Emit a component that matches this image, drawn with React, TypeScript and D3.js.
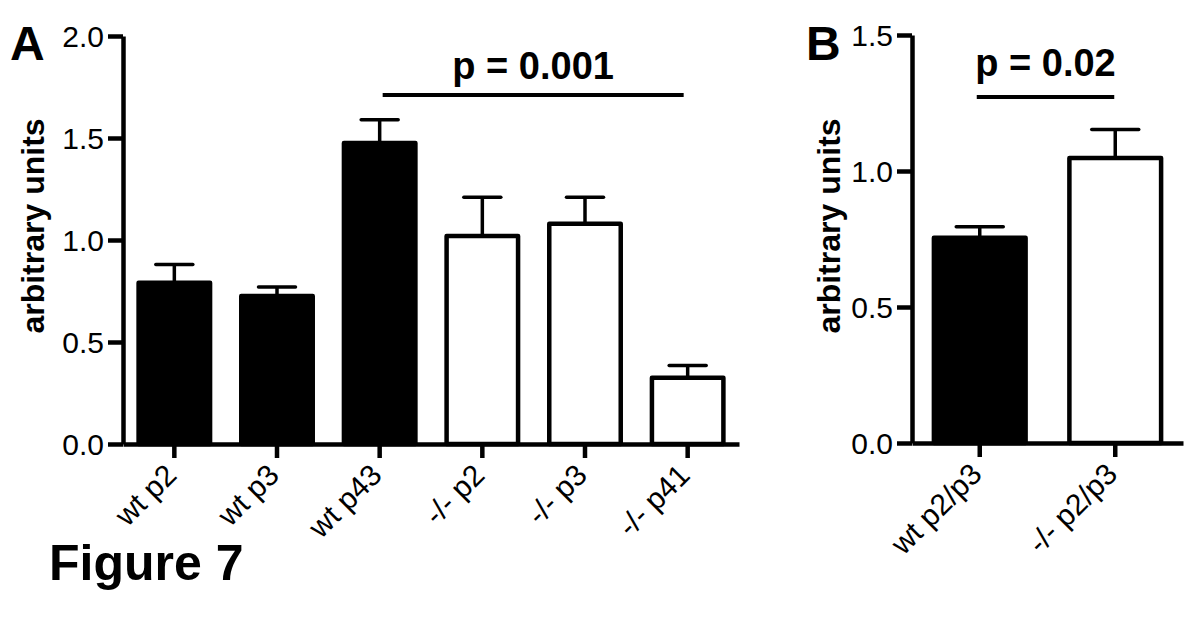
import React, { useRef, useEffect } from 'react';
import * as d3 from 'd3';

// Panel A
const categoriesA = ["wt p2", "wt p3", "wt p43", "-/- p2", "-/- p3", "-/- p41"];
const meansA = [0.79, 0.725, 1.475, 1.02, 1.08, 0.325];
const semA = [0.09, 0.045, 0.115, 0.19, 0.13, 0.06];
const groupA = ["wt", "wt", "wt", "ko", "ko", "ko"];
const ticksA = [0, 0.5, 1.0, 1.5, 2.0];

// Panel B
const categoriesB = ["wt p2/p3", "-/- p2/p3"];
const meansB = [0.755, 1.048];
const semB = [0.04, 0.105];
const groupB = ["wt", "ko"];
const ticksB = [0, 0.5, 1.0, 1.5];

const FONT = "'Liberation Sans', Arial, Helvetica, sans-serif";

const drawPanel = (svg, cfg) => {
    const { cats, means, sem, groups, ticks, yMax, x0, x1, y0, y1, pad, cap, letter, letterX, labelX, sig } = cfg;

    const xScale = d3.scaleBand().domain(cats).range([x0, x1]).paddingInner(pad).paddingOuter(pad / 2);
    const yScale = d3.scaleLinear().domain([0, yMax]).range([y0, y1]);
    const sw = 4.5;

    const g = svg.append("g");

    // barras
    const data = cats.map((c, i) => ({ c, v: means[i], e: sem[i], grp: groups[i] }));
    g.selectAll("rect.bar").data(data).enter().append("rect")
        .attr("class", "bar")
        .attr("x", d => xScale(d.c) + sw / 2)
        .attr("width", xScale.bandwidth() - sw)
        .attr("y", d => yScale(d.v))
        .attr("height", d => y0 - yScale(d.v))
        .attr("fill", d => d.grp === "wt" ? "#000" : "#fff")
        .attr("stroke", "#000")
        .attr("stroke-width", sw)
        .attr("stroke-linejoin", "round");

    // barras de error (solo hacia arriba)
    const cx = d => xScale(d.c) + xScale.bandwidth() / 2;
    g.selectAll("line.err").data(data).enter().append("line")
        .attr("x1", cx).attr("x2", cx)
        .attr("y1", d => yScale(d.v)).attr("y2", d => yScale(d.v + d.e))
        .attr("stroke", "#000").attr("stroke-width", 3.5);
    g.selectAll("line.cap").data(data).enter().append("line")
        .attr("x1", d => cx(d) - cap / 2).attr("x2", d => cx(d) + cap / 2)
        .attr("y1", d => yScale(d.v + d.e)).attr("y2", d => yScale(d.v + d.e))
        .attr("stroke", "#000").attr("stroke-width", 3.5).attr("stroke-linecap", "round");

    // eje y
    const yAxis = g.append("g")
        .attr("transform", `translate(${x0},0)`)
        .call(d3.axisLeft(yScale).tickValues(ticks).tickFormat(d3.format(".1f")).tickSize(15).tickSizeOuter(0).tickPadding(4));
    yAxis.select(".domain").attr("stroke-width", 4.5);
    yAxis.selectAll(".tick line").attr("stroke-width", 4.5);
    yAxis.selectAll(".tick text").attr("font-size", 30).attr("font-family", FONT).attr("fill", "#000").attr("dy", "0.36em");

    // eje x
    const xAxis = g.append("g")
        .attr("transform", `translate(0,${y0})`)
        .call(d3.axisBottom(xScale).tickSize(14).tickSizeOuter(0).tickPadding(0));
    xAxis.select(".domain").attr("stroke-width", 4.5);
    xAxis.selectAll(".tick line").attr("stroke-width", 4.5);
    xAxis.selectAll(".tick text")
        .attr("font-size", 30).attr("font-family", FONT).attr("fill", "#000")
        .attr("text-anchor", "end")
        .attr("dy", 0)
        .attr("transform", "translate(-6,23) rotate(-45)");

    // título del eje y
    g.append("text")
        .attr("transform", `translate(${labelX},226) rotate(-90)`)
        .attr("text-anchor", "middle")
        .attr("font-family", FONT).attr("font-weight", "bold").attr("font-size", 32)
        .text("arbitrary units");

    // letra del panel
    g.append("text")
        .attr("x", letterX).attr("y", 60)
        .attr("font-family", FONT).attr("font-weight", "bold").attr("font-size", 48)
        .text(letter);

    // línea de significancia
    const sx1 = xScale(sig.from) + xScale.bandwidth() / 2 + sig.off1;
    const sx2 = xScale(sig.to) + xScale.bandwidth() / 2 + sig.off2;
    g.append("line")
        .attr("x1", sx1).attr("x2", sx2)
        .attr("y1", sig.y).attr("y2", sig.y)
        .attr("stroke", "#000").attr("stroke-width", 4);
    g.append("text")
        .attr("x", (sx1 + sx2) / 2).attr("y", sig.textY)
        .attr("text-anchor", "middle")
        .attr("font-family", FONT).attr("font-weight", "bold").attr("font-size", 38)
        .text(sig.text);
};

const App = () => {
    const svgRef = useRef();

    useEffect(() => {
        const svg = d3.select(svgRef.current);
        svg.selectAll("*").remove();

        svg.append("rect").attr("width", 1200).attr("height", 626).attr("fill", "#fff");

        drawPanel(svg, {
            cats: categoriesA, means: meansA, sem: semA, groups: groupA, ticks: ticksA, yMax: 2.0,
            x0: 123, x1: 739, y0: 444, y1: 36, pad: 0.26, cap: 37,
            letter: "A", letterX: 10, labelX: 44,
            sig: { from: "wt p43", to: "-/- p41", off1: 3, off2: -4, y: 95, textY: 79, text: "p = 0.001" },
        });

        drawPanel(svg, {
            cats: categoriesB, means: meansB, sem: semB, groups: groupB, ticks: ticksB, yMax: 1.5,
            x0: 912, x1: 1183, y0: 443, y1: 35, pad: 0.29, cap: 47,
            letter: "B", letterX: 806, labelX: 840,
            sig: { from: "wt p2/p3", to: "-/- p2/p3", off1: -3, off2: -1, y: 97, textY: 76, text: "p = 0.02" },
        });

        svg.append("text")
            .attr("x", 49).attr("y", 580)
            .attr("font-family", FONT).attr("font-weight", "bold").attr("font-size", 50)
            .text("Figure 7");
    }, []);

    return (
        <svg ref={svgRef} width="1200" height="626" style={{ position: "absolute", left: 0, top: 0 }}></svg>
    );
};

export default App;
